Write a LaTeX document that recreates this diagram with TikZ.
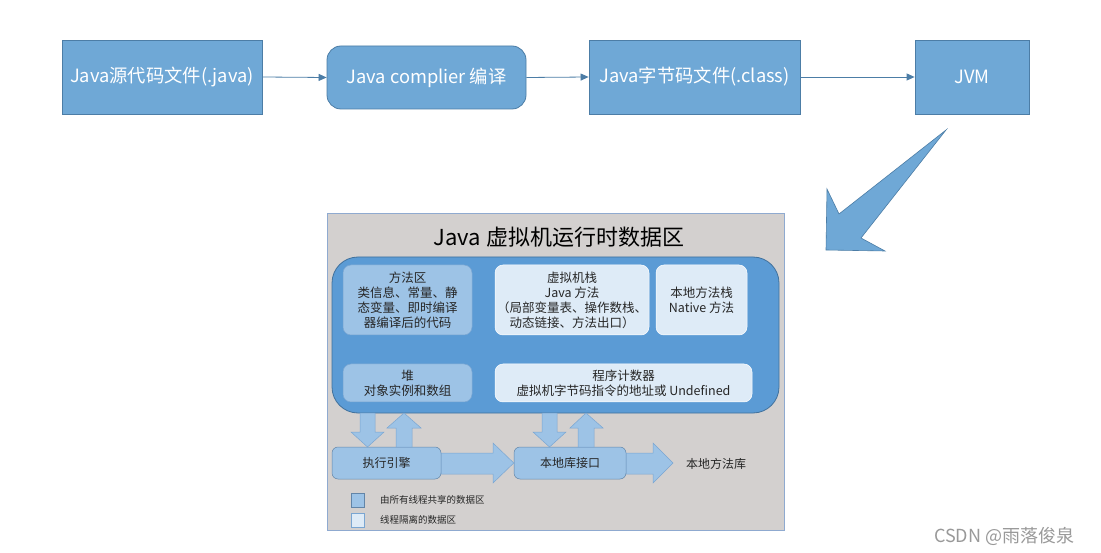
\documentclass[tikz,border=0pt]{standalone}
\usepackage{fontspec}
\setmainfont{Noto Sans CJK SC}
\usetikzlibrary{arrows.meta}
\definecolor{topfill}{HTML}{6FA8D6}
\definecolor{topline}{HTML}{4C7DA6}
\definecolor{panelgray}{HTML}{D3D0CF}
\definecolor{panelline}{HTML}{8FAAD0}
\definecolor{contfill}{HTML}{5B9BD5}
\definecolor{contline}{HTML}{41719C}
\definecolor{midfill}{HTML}{9DC3E6}
\definecolor{midline}{HTML}{7AA6D2}
\definecolor{lightfill}{HTML}{DEEBF7}
\definecolor{txt}{HTML}{262626}
\tikzset{
  topbox/.style={draw=topline, fill=topfill, line width=0.8pt, text=white, font=\fontsize{18.3}{21}\selectfont, inner sep=0pt},
  flow/.style={draw=topline, line width=0.8pt, -{Triangle[length=8pt,width=7pt]}},
  midbox/.style={draw=midline, fill=midfill, rounded corners=8pt, line width=0.5pt, text=txt, align=center, inner sep=0pt, font=\fontsize{12.5}{15}\selectfont},
  lightbox/.style={draw=white, fill=lightfill, rounded corners=8pt, line width=0.5pt, text=txt, align=center, inner sep=0pt, font=\fontsize{12.5}{15}\selectfont},
  fat/.style={draw=midline, fill=midfill, line width=0.5pt},
  legendtxt/.style={anchor=west, text=txt, font=\fontsize{9.5}{11}\selectfont, inner sep=0pt}
}
\begin{document}
\begin{tikzpicture}[x=1pt,y=-1pt]
\useasboundingbox (0,0) rectangle (1101,553);
\fill[white] (0,0) rectangle (1101,553);
% top row
\node[topbox, minimum width=200pt, minimum height=74pt] (src) at (162,77) {Java源代码文件(.java)};
\node[topbox, rounded corners=14pt, minimum width=199pt, minimum height=63pt] (cmp) at (426.5,77.5) {Java complier 编译};
\node[topbox, minimum width=211pt, minimum height=74pt] (cls) at (694.5,77) {Java字节码文件(.class)};
\node[topbox, minimum width=114pt, minimum height=74pt] (jvm) at (972,77) {JVM};
\draw[flow] (src.east) -- (cmp.west);
\draw[flow] (cmp.east) -- (cls.west);
\draw[flow] (cls.east) -- (jvm.west);
% big arrow
\draw[draw=topline, fill=topfill, line width=0.6pt, line join=miter]
  (946,130) -- (839,214) -- (827,189) -- (826,250) -- (885,251) -- (861,238) -- cycle;
% panel
\node[draw=panelline, fill=panelgray, line width=0.8pt, minimum width=457pt, minimum height=317pt, inner sep=0pt] (panel) at (556,372) {};
\node[text=black, font=\fontsize{22}{25}\selectfont, inner sep=0pt] (title) at (559,237) {Java 虚拟机运行时数据区};
% container
\node[draw=contline, fill=contfill, line width=0.8pt, rounded corners=26pt, minimum width=447pt, minimum height=156pt, inner sep=0pt] (cont) at (555.5,335) {};
% inner boxes
\node[midbox, minimum width=129pt, minimum height=70pt] (method) at (407.5,300) {方法区\\类信息、常量、静\\态变量、即时编译\\器编译后的代码};
\node[lightbox, minimum width=154pt, minimum height=70pt] (vmstack) at (572,300) {虚拟机栈\\Java 方法\\（局部变量表、操作数栈、\\动态链接、方法出口）};
\node[lightbox, minimum width=91pt, minimum height=70pt] (nstack) at (701.5,300) {本地方法栈\\Native 方法};
\node[midbox, minimum width=129pt, minimum height=38pt] (heap) at (407.5,383) {堆\\对象实例和数组};
\node[lightbox, minimum width=257pt, minimum height=38pt] (pc) at (623.5,383) {程序计数器\\虚拟机字节码指令的地址或 Undefined};
% bottom boxes
\node[midbox, draw=midline!80!black, rounded corners=6pt, minimum width=109pt, minimum height=32pt, font=\fontsize{12}{14}\selectfont] (exec) at (386.5,463) {执行引擎};
\node[midbox, draw=midline!80!black, rounded corners=6pt, minimum width=112pt, minimum height=32pt, font=\fontsize{12}{14}\selectfont] (jni) at (570,463) {本地库接口};
\node[anchor=west, text=txt, font=\fontsize{12}{14}\selectfont, inner sep=0pt] (nlib) at (686,464) {本地方法库};
% fat arrows horizontal
\draw[fat] (exec.east |- 0,453) -- (493,453) -- (493,443) -- (jni.west) -- (493,483) -- (493,474) -- (exec.east |- 0,474) -- cycle;
\draw[fat] (jni.east |- 0,453) -- (653,453) -- (653,443) -- (673,463) -- (653,483) -- (653,474) -- (jni.east |- 0,474) -- cycle;
% fat arrows vertical
\draw[fat] (360,413) -- (375,413) -- (375,432) -- (384,432) -- (367.5,447) -- (351,432) -- (360,432) -- cycle;
\draw[fat] (396,447) -- (412,447) -- (412,428) -- (421,428) -- (404,413) -- (387,428) -- (396,428) -- cycle;
\draw[fat] (542,413) -- (557,413) -- (557,432) -- (566,432) -- (549.5,447) -- (533,432) -- (542,432) -- cycle;
\draw[fat] (578,447) -- (594,447) -- (594,428) -- (603,428) -- (586,413) -- (570,428) -- (578,428) -- cycle;
% legend
\node[draw=midline!80!black, fill=midfill, minimum width=13pt, minimum height=14pt, inner sep=0pt, line width=0.5pt] (lg1) at (357.5,500) {};
\node[draw=midline, fill=lightfill, minimum width=13pt, minimum height=14pt, inner sep=0pt, line width=0.5pt] (lg2) at (357.5,520) {};
\node[legendtxt] (lt1) at (380,500) {由所有线程共享的数据区};
\node[legendtxt] (lt2) at (380,520) {线程隔离的数据区};
% watermark
\node[anchor=west, text=black!40, font=\fontsize{18}{21}\selectfont, inner sep=0pt] (wm) at (934,536) {CSDN @雨落俊泉};
\end{tikzpicture}
\end{document}
